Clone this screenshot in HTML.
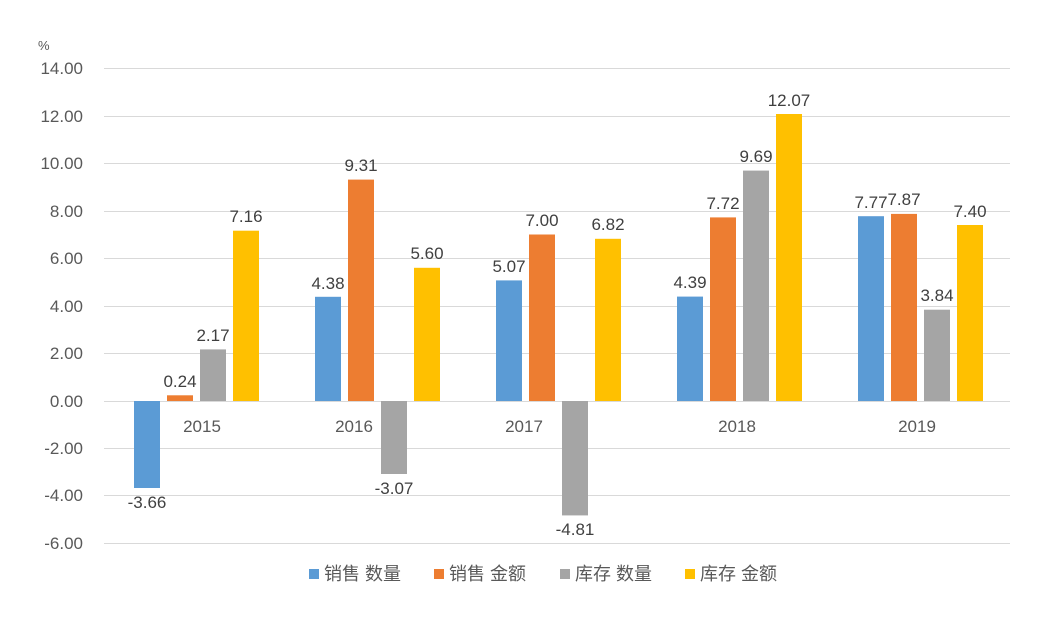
<!DOCTYPE html>
<html><head><meta charset="utf-8"><style>
body{margin:0;background:#fff}
svg{display:block;font-family:"Liberation Sans","Noto Sans CJK SC",sans-serif}
</style></head><body>
<svg width="1052" height="624" viewBox="0 0 1052 624">
<rect width="1052" height="624" fill="#fff"/>
<g stroke="#d9d9d9" stroke-width="1">
<line x1="104" x2="1010" y1="68.5" y2="68.5"/><line x1="104" x2="1010" y1="116.5" y2="116.5"/>
<line x1="104" x2="1010" y1="163.5" y2="163.5"/><line x1="104" x2="1010" y1="211.5" y2="211.5"/>
<line x1="104" x2="1010" y1="258.5" y2="258.5"/><line x1="104" x2="1010" y1="306.5" y2="306.5"/>
<line x1="104" x2="1010" y1="353.5" y2="353.5"/><line x1="104" x2="1010" y1="401.5" y2="401.5"/>
<line x1="104" x2="1010" y1="448.5" y2="448.5"/><line x1="104" x2="1010" y1="495.5" y2="495.5"/>
<line x1="104" x2="1010" y1="543.5" y2="543.5"/>
</g>
<g fill="#595959" font-size="17" text-anchor="end">
<text x="38" y="50" text-anchor="start" font-size="13">%</text>
<text x="83" y="74">14.00</text><text x="83" y="122">12.00</text><text x="83" y="169">10.00</text>
<text x="83" y="217">8.00</text><text x="83" y="264">6.00</text><text x="83" y="312">4.00</text>
<text x="83" y="359">2.00</text><text x="83" y="407">0.00</text><text x="83" y="454">-2.00</text>
<text x="83" y="501">-4.00</text><text x="83" y="549">-6.00</text>
</g>
<g>
<rect x="134" y="401" width="26" height="87" fill="#5b9bd5"/>
<rect x="167" y="395.3" width="26" height="5.7" fill="#ed7d31"/>
<rect x="200" y="349.4" width="26" height="51.6" fill="#a5a5a5"/>
<rect x="233" y="230.7" width="26" height="170.3" fill="#ffc000"/>
<rect x="315" y="296.8" width="26" height="104.2" fill="#5b9bd5"/>
<rect x="348" y="179.6" width="26" height="221.4" fill="#ed7d31"/>
<rect x="381" y="401" width="26" height="73" fill="#a5a5a5"/>
<rect x="414" y="267.8" width="26" height="133.2" fill="#ffc000"/>
<rect x="496" y="280.4" width="26" height="120.6" fill="#5b9bd5"/>
<rect x="529" y="234.5" width="26" height="166.5" fill="#ed7d31"/>
<rect x="562" y="401" width="26" height="114.4" fill="#a5a5a5"/>
<rect x="595" y="238.8" width="26" height="162.2" fill="#ffc000"/>
<rect x="677" y="296.6" width="26" height="104.4" fill="#5b9bd5"/>
<rect x="710" y="217.4" width="26" height="183.6" fill="#ed7d31"/>
<rect x="743" y="170.6" width="26" height="230.4" fill="#a5a5a5"/>
<rect x="776" y="114" width="26" height="287" fill="#ffc000"/>
<rect x="858" y="216.2" width="26" height="184.8" fill="#5b9bd5"/>
<rect x="891" y="213.9" width="26" height="187.1" fill="#ed7d31"/>
<rect x="924" y="309.7" width="26" height="91.3" fill="#a5a5a5"/>
<rect x="957" y="225" width="26" height="176" fill="#ffc000"/>
</g>
<g fill="#404040" font-size="17" text-anchor="middle">
<text x="147" y="508">-3.66</text><text x="180" y="387">0.24</text><text x="213" y="341">2.17</text><text x="246" y="222">7.16</text>
<text x="328" y="289">4.38</text><text x="361" y="171">9.31</text><text x="394" y="494">-3.07</text><text x="427" y="259">5.60</text>
<text x="509" y="272">5.07</text><text x="542" y="226">7.00</text><text x="575" y="535">-4.81</text><text x="608" y="230">6.82</text>
<text x="690" y="288">4.39</text><text x="723" y="209">7.72</text><text x="756" y="162">9.69</text><text x="789" y="106">12.07</text>
<text x="871" y="208">7.77</text><text x="904" y="205">7.87</text><text x="937" y="301">3.84</text><text x="970" y="217">7.40</text>
</g>
<g fill="#595959" font-size="17" text-anchor="middle">
<text x="202" y="432">2015</text><text x="354" y="432">2016</text><text x="524" y="432">2017</text>
<text x="737" y="432">2018</text><text x="917" y="432">2019</text>
</g>
<g font-size="18" fill="#595959">
<rect x="309" y="569" width="10" height="10" fill="#5b9bd5"/><text x="324" y="580">销售 数量</text>
<rect x="434" y="569" width="10" height="10" fill="#ed7d31"/><text x="449" y="580">销售 金额</text>
<rect x="560" y="569" width="10" height="10" fill="#a5a5a5"/><text x="575" y="580">库存 数量</text>
<rect x="685" y="569" width="10" height="10" fill="#ffc000"/><text x="700" y="580">库存 金额</text>
</g>
</svg>
</body></html>
